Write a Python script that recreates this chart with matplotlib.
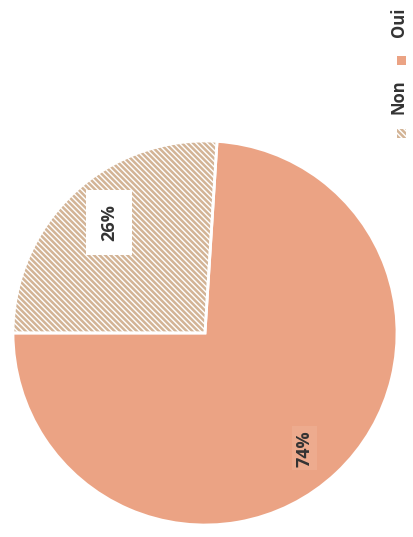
import matplotlib
matplotlib.use('Agg')
import matplotlib.pyplot as plt
from matplotlib.patches import Rectangle

labels = ['Non', 'Oui']
values = [26, 74]
label_pos = [(-0.50, 0.575), (0.52, -0.60)]

oui_color = '#EBA384'
hatch_color = '#D3B496'

plt.rcParams['font.family'] = ['Open Sans', 'DejaVu Sans']
plt.rcParams['hatch.linewidth'] = 1.8

W, H = 414, 537
fig = plt.figure(figsize=(W / 100, H / 100), dpi=100)
fig.patch.set_facecolor('white')

# pie centred at (205, 333) px, radius 192 px
cx, cy, r = 205, 333, 192
ax = fig.add_axes([(cx - r) / W, (H - cy - r) / H, 2 * r / W, 2 * r / H])

# Non slice ends just past 12 o'clock, running back to 9 o'clock
start = 90 - (values[0] / 100 * 360 - 90)
wedges, _ = ax.pie(values, startangle=start, counterclock=True, radius=1,
                   colors=['white', oui_color],
                   wedgeprops=dict(linewidth=0))
wedges[0].set_hatch('\\' * 6)
wedges[0].set_edgecolor(hatch_color)
wedges[0].set_linewidth(0)

# white separators between slices
ax.pie(values, startangle=start, counterclock=True, radius=1,
       colors=['none', 'none'],
       wedgeprops=dict(linewidth=2, edgecolor='white', fill=False))

ax.set_xlim(-1, 1)
ax.set_ylim(-1, 1)
ax.set_aspect('equal')
ax.axis('off')

ax.text(*label_pos[0], f'{values[0]}%', rotation=90, ha='center', va='center',
        fontsize=13, fontweight='bold', color='#333333',
        bbox=dict(boxstyle='square,pad=0.8', fc='white', ec='none'))
ax.text(*label_pos[1], f'{values[1]}%', rotation=90, ha='center', va='center',
        fontsize=13, fontweight='bold', color='#333333',
        bbox=dict(boxstyle='square,pad=0.2', fc='#EDAB8E', ec='none'))

# legend, rotated along the right edge
fig.text(399 / W, 1 - 97 / H, labels[0], rotation=90, ha='center', va='center',
         fontsize=12, fontweight='bold', color='#333333')
fig.text(399 / W, 1 - 22 / H, labels[1], rotation=90, ha='center', va='center',
         fontsize=12, fontweight='bold', color='#333333')
fig.patches.append(Rectangle((397 / W, 1 - 138 / H), 9 / W, 9 / H,
                             transform=fig.transFigure, fc='white',
                             ec=hatch_color, lw=0, hatch='\\' * 6))
fig.patches.append(Rectangle((397 / W, 1 - 65 / H), 9 / W, 9 / H,
                             transform=fig.transFigure, fc=oui_color, lw=0))

fig.savefig('out.png', dpi=100, facecolor='white')
